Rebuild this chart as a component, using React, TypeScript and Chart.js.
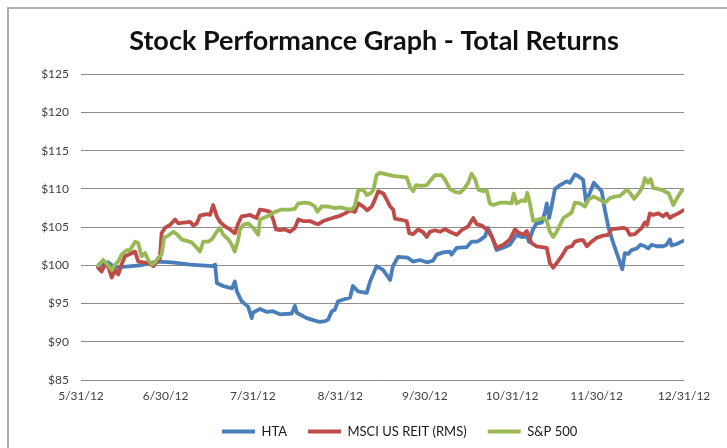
import React, { useEffect, useRef } from 'react';
import { Chart, registerables } from 'chart.js';

Chart.register(...registerables);

// x positions are days after 5/31/12
const tickDays = [0, 30, 61, 92, 122, 153, 183, 214];
const tickLabels = ['5/31/12', '6/30/12', '7/31/12', '8/31/12', '9/30/12', '10/31/12', '11/30/12', '12/31/12'];
const yTicks = [85, 90, 95, 100, 105, 110, 115, 120, 125];

const seriesNames = ['HTA', 'MSCI US REIT (RMS)', 'S&P 500'];

const htaDays = [6.1, 9.6, 12.1, 14.9, 20.9, 27.0, 32.3, 38.7, 46.8, 47.6, 48.2, 50.4, 53.6, 54.6, 55.3, 57.0, 59.3, 60.6, 61.0, 63.5, 66.0, 68.1, 70.6, 74.8, 75.9, 76.6, 80.1, 83.6, 84.8, 86.6, 87.7, 89.0, 90.1, 91.2, 95.5, 96.5, 98.3, 101.4, 102.6, 104.9, 107.2, 109.7, 110.7, 112.5, 116.0, 117.8, 120.3, 122.7, 124.9, 126.2, 128.5, 130.9, 131.5, 133.3, 136.9, 138.6, 140.4, 141.6, 143.4, 144.4, 145.7, 147.5, 149.8, 152.2, 154.6, 156.4, 158.2, 159.0, 160.4, 161.7, 163.5, 164.7, 165.3, 166.1, 167.0, 168.2, 170.0, 172.4, 173.5, 175.3, 176.4, 178.2, 179.2, 180.6, 182.0, 183.0, 184.8, 185.9, 187.1, 188.9, 190.7, 192.1, 193.0, 194.2, 195.4, 197.2, 198.6, 200.1, 201.3, 202.5, 204.3, 206.6, 207.8, 209.0, 209.6, 211.4, 213.7];
const htaValues = [99.8, 100.4, 99.7, 99.8, 100.0, 100.5, 100.4, 100.1, 99.9, 100.1, 97.7, 97.3, 97.0, 97.9, 96.6, 95.3, 94.6, 93.1, 93.8, 94.3, 93.9, 94.0, 93.6, 93.7, 94.7, 93.8, 93.1, 92.7, 92.6, 92.7, 92.9, 94.0, 94.2, 95.3, 95.8, 97.3, 96.6, 96.4, 97.9, 99.9, 99.4, 98.1, 99.9, 101.1, 101.0, 100.5, 100.7, 100.4, 100.6, 101.4, 101.7, 101.8, 101.4, 102.3, 102.4, 103.1, 103.1, 103.3, 103.8, 104.9, 103.9, 102.0, 102.3, 102.7, 104.0, 103.7, 103.8, 103.1, 104.7, 105.5, 105.6, 107.0, 108.1, 106.2, 107.7, 110.0, 110.5, 111.0, 110.8, 111.9, 111.7, 111.2, 108.4, 109.5, 110.8, 110.4, 109.7, 107.3, 105.1, 102.9, 101.0, 99.5, 101.6, 101.5, 102.0, 102.2, 102.7, 102.5, 102.2, 102.7, 102.5, 102.5, 102.7, 103.4, 102.6, 102.8, 103.2];

const reitDays = [6.1, 7.3, 8.5, 9.7, 10.9, 12.1, 13.2, 14.4, 15.6, 17.4, 19.2, 20.3, 22.1, 23.9, 25.7, 26.9, 28.0, 28.6, 29.8, 31.6, 33.4, 34.5, 36.3, 38.7, 39.9, 41.1, 42.2, 44.6, 45.8, 46.9, 48.2, 49.3, 51.1, 52.9, 54.6, 55.8, 57.0, 58.8, 60.0, 62.3, 63.5, 65.3, 67.1, 68.2, 69.2, 70.6, 72.4, 74.2, 75.9, 77.1, 78.9, 81.3, 83.0, 84.2, 86.0, 88.4, 90.1, 91.3, 91.9, 93.7, 95.5, 97.2, 98.4, 100.2, 101.6, 103.2, 104.3, 105.5, 107.3, 108.5, 109.7, 110.8, 111.4, 113.2, 115.6, 116.5, 117.9, 119.7, 121.5, 122.7, 123.8, 125.6, 127.4, 129.2, 130.9, 133.3, 135.1, 137.4, 139.2, 140.4, 142.2, 144.0, 145.7, 147.5, 149.9, 152.2, 154.0, 155.2, 157.0, 158.2, 159.9, 161.7, 163.5, 165.3, 166.4, 167.6, 168.8, 170.6, 172.4, 174.1, 175.3, 177.1, 178.2, 179.5, 181.2, 183.0, 185.3, 187.1, 188.3, 190.1, 192.5, 193.7, 194.8, 196.6, 199.0, 200.1, 200.9, 201.9, 203.1, 204.9, 206.6, 207.8, 209.0, 210.2, 212.0, 213.7];
const reitValues = [99.7, 99.2, 100.1, 99.8, 98.4, 99.4, 98.8, 100.1, 101.2, 101.5, 101.8, 100.5, 100.4, 100.3, 99.9, 100.5, 100.9, 104.2, 104.9, 105.3, 106.0, 105.5, 105.6, 105.7, 105.2, 105.5, 106.5, 106.7, 106.6, 107.9, 106.4, 105.7, 105.1, 104.7, 104.2, 105.5, 106.4, 106.5, 106.6, 106.2, 107.3, 107.2, 107.0, 106.0, 104.7, 104.6, 104.7, 104.4, 104.9, 106.0, 105.8, 105.8, 105.5, 105.4, 105.8, 106.1, 106.3, 106.4, 106.5, 106.8, 107.2, 107.0, 108.1, 107.7, 107.2, 107.7, 108.6, 109.7, 109.4, 108.6, 107.7, 107.3, 106.1, 106.0, 105.8, 104.2, 104.1, 104.7, 104.3, 103.7, 104.4, 104.6, 104.4, 104.75, 104.4, 104.0, 104.6, 105.1, 106.2, 105.4, 105.2, 104.7, 103.8, 102.3, 102.7, 103.4, 104.7, 104.3, 104.0, 104.5, 102.9, 102.5, 102.4, 102.3, 100.3, 99.7, 100.3, 101.2, 102.3, 102.5, 103.1, 103.3, 103.3, 102.5, 103.1, 103.6, 103.9, 104.0, 104.75, 104.8, 104.9, 104.75, 104.0, 104.1, 104.9, 105.6, 105.3, 106.8, 106.6, 106.8, 106.4, 106.8, 106.2, 106.5, 106.8, 107.2];

const spDays = [6.1, 7.9, 9.7, 10.9, 12.1, 13.2, 14.4, 16.2, 17.4, 19.2, 20.3, 21.5, 22.7, 23.9, 25.1, 26.3, 27.4, 28.6, 29.5, 31.0, 32.8, 34.2, 35.7, 37.5, 39.3, 41.1, 42.2, 43.4, 45.2, 46.4, 48.2, 49.3, 50.5, 52.3, 53.5, 54.6, 55.8, 56.4, 57.6, 59.4, 61.1, 62.9, 63.5, 65.3, 67.1, 68.8, 71.2, 74.2, 75.9, 77.1, 79.5, 81.3, 83.0, 83.9, 85.4, 87.8, 90.1, 91.9, 94.3, 96.1, 97.2, 98.4, 100.2, 101.4, 102.6, 103.7, 104.9, 106.1, 108.5, 110.8, 113.2, 115.6, 116.7, 117.9, 118.9, 120.9, 122.7, 123.8, 125.6, 128.0, 129.2, 130.9, 132.7, 134.5, 135.7, 137.4, 138.6, 139.8, 141.0, 142.8, 144.0, 145.1, 146.3, 148.7, 151.1, 152.8, 153.6, 154.6, 156.4, 157.6, 158.4, 159.3, 160.5, 162.3, 164.1, 165.3, 166.4, 167.6, 168.8, 171.2, 172.9, 174.1, 175.3, 177.1, 178.9, 180.1, 181.8, 183.6, 186.0, 187.7, 189.5, 191.3, 193.7, 194.8, 196.3, 198.4, 199.5, 200.1, 201.3, 202.2, 203.1, 204.9, 206.6, 208.6, 210.2, 211.4, 213.2, 213.7];
const spValues = [100.0, 100.7, 100.0, 99.4, 100.1, 100.5, 101.4, 102.0, 102.0, 103.1, 102.9, 101.2, 101.6, 100.7, 100.1, 100.4, 101.0, 101.4, 103.6, 103.9, 104.4, 104.0, 103.4, 103.2, 103.0, 102.3, 101.8, 103.1, 103.1, 103.4, 104.4, 104.9, 104.0, 103.4, 102.7, 101.8, 103.4, 104.7, 105.3, 105.5, 104.9, 104.0, 106.0, 106.3, 106.6, 107.0, 107.3, 107.3, 107.4, 108.1, 108.2, 108.1, 107.7, 107.0, 107.7, 107.7, 107.5, 107.6, 107.4, 107.3, 107.8, 109.8, 109.9, 109.2, 109.4, 109.8, 111.8, 112.1, 111.9, 111.7, 111.6, 111.5, 110.3, 109.7, 110.5, 110.4, 110.5, 111.0, 111.8, 111.8, 111.2, 110.0, 109.6, 109.5, 109.9, 110.8, 112.0, 111.3, 109.9, 109.7, 109.8, 108.1, 107.9, 108.2, 108.2, 108.1, 109.4, 108.1, 108.5, 108.4, 109.5, 108.1, 105.8, 106.0, 106.2, 105.8, 104.4, 103.7, 104.4, 106.2, 106.6, 106.9, 108.2, 108.1, 107.7, 108.6, 109.0, 108.7, 108.2, 108.8, 109.0, 109.1, 109.9, 109.5, 108.7, 109.7, 110.5, 111.4, 110.8, 111.3, 110.1, 110.0, 109.8, 109.4, 107.9, 108.7, 109.8, 109.9];

const BLUE = '#4a7ebb';
const RED = '#be4b48';
const GREEN = '#98b954';
const TITLE_SHIFT = 32;
const LEGEND_START = 222;

const toPoints = (d: number[], v: number[]) => d.map((x, i) => ({ x, y: v[i] }));

export default function App() {
  const ref = useRef<HTMLCanvasElement>(null);

  useEffect(() => {
    document.body.style.margin = '0';
    document.body.style.overflow = 'hidden';
    const tickFont = { family: 'Lato', size: 12 };
    const shiftPlugin = {
      id: 'shiftBlocks',
      afterLayout(chart: any) {
        const t = chart.titleBlock;
        if (t) {
          t.left += TITLE_SHIFT;
          t.right += TITLE_SHIFT;
        }
        const l = chart.legend;
        if (l) {
          const pad = l.options.labels.padding;
          const w = l.right - l.left;
          l.left = LEGEND_START - pad;
          l.right = l.left + w;
        }
      },
    };
    const chart = new Chart(ref.current as HTMLCanvasElement, {
      type: 'line',
      data: {
        datasets: [
          { label: seriesNames[0], data: toPoints(htaDays, htaValues), borderColor: BLUE, backgroundColor: BLUE, borderWidth: 3.8, pointRadius: 0, order: 2 },
          { label: seriesNames[1], data: toPoints(reitDays, reitValues), borderColor: RED, backgroundColor: RED, borderWidth: 3.8, pointRadius: 0, order: 1 },
          { label: seriesNames[2], data: toPoints(spDays, spValues), borderColor: GREEN, backgroundColor: GREEN, borderWidth: 3.8, pointRadius: 0, order: 0 },
        ],
      },
      options: {
        animation: false,
        responsive: false,
        events: [],
        elements: { line: { borderJoinStyle: 'round', borderCapStyle: 'round', tension: 0 } },
        layout: { padding: { left: 0, right: 43, top: 0, bottom: 0 } },
        plugins: {
          title: {
            display: true,
            text: 'Stock Performance Graph - Total Returns',
            color: '#111111',
            font: { family: 'Lato', size: 27, weight: 'bold' },
            padding: { top: 24.8, bottom: 17.1 },
          },
          legend: {
            position: 'bottom',
            align: 'start',
            labels: {
              boxWidth: 33,
              boxHeight: 4,
              padding: 21,
              color: '#1a1a1a',
              font: { family: 'Lato', size: 13 },
              generateLabels: (c: any) =>
                Chart.defaults.plugins.legend.labels
                  .generateLabels(c)
                  .map((l: any) => ({ ...l, lineWidth: 0 }))
                  .sort((a: any, b: any) => a.datasetIndex - b.datasetIndex),
            },
          },
          tooltip: { enabled: false },
        },
        scales: {
          x: {
            type: 'linear',
            min: 0,
            max: 214,
            afterBuildTicks: (s: any) => {
              s.ticks = tickDays.map((v) => ({ value: v }));
            },
            afterFit: (s: any) => {
              s.height = 24;
            },
            ticks: {
              autoSkip: false,
              maxRotation: 0,
              padding: 9,
              color: '#404040',
              font: tickFont,
              callback: (v: any) => {
                const i = tickDays.indexOf(Number(v));
                return i >= 0 ? tickLabels[i] : '';
              },
            },
            grid: { display: false, drawTicks: false },
            border: { display: false },
          },
          y: {
            min: yTicks[0],
            max: yTicks[yTicks.length - 1],
            afterBuildTicks: (s: any) => {
              s.ticks = yTicks.map((v) => ({ value: v }));
            },
            afterFit: (s: any) => {
              s.width = 81;
            },
            ticks: {
              padding: 12,
              color: '#404040',
              font: tickFont,
              callback: (v: any) => '$' + v,
            },
            grid: { color: '#8c8c8c', lineWidth: 1, drawTicks: false },
            border: { display: false },
          },
        },
      },
      plugins: [shiftPlugin],
    } as any);
    return () => chart.destroy();
  }, []);

  return (
    <div style={{ position: 'absolute', left: 0, top: 0, width: 727, height: 448, background: '#ffffff', overflow: 'hidden' }}>
      <div style={{ position: 'absolute', left: 7, top: 7, width: 720, height: 441, borderLeft: '2px solid #b0b0b0', borderTop: '2px solid #b0b0b0' }} />
      <canvas ref={ref} width={727} height={448} style={{ position: 'absolute', left: 0, top: 0, width: 727, height: 448 }} />
    </div>
  );
}
